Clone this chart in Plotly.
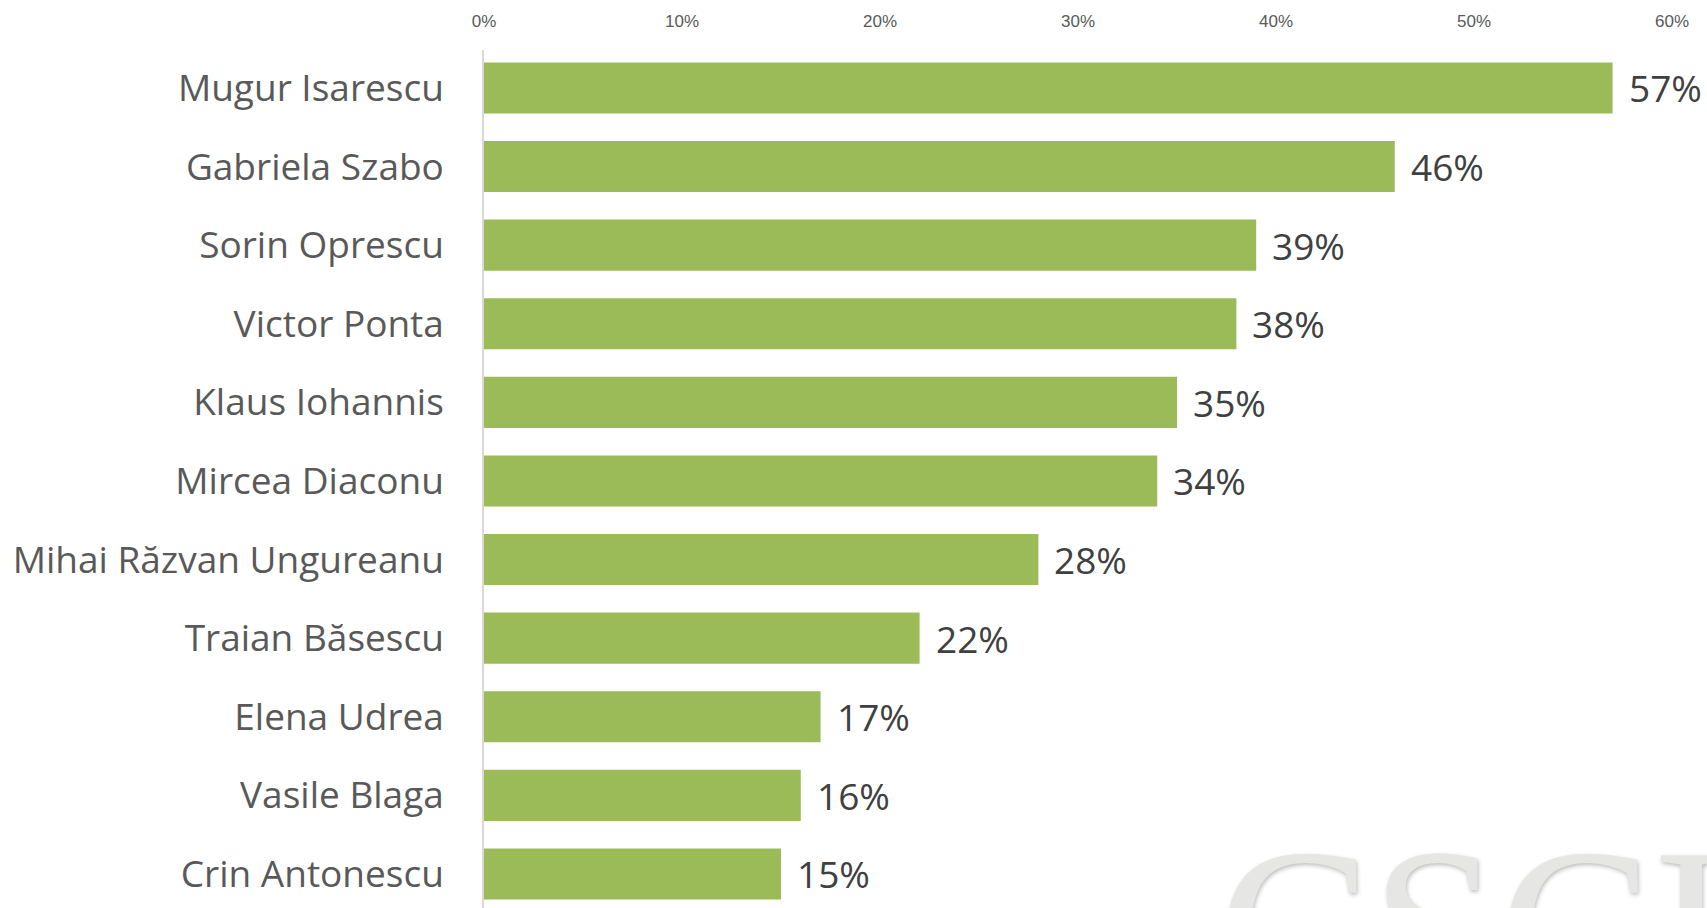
import plotly.graph_objects as go

names = ["Mugur Isarescu", "Gabriela Szabo", "Sorin Oprescu", "Victor Ponta",
         "Klaus Iohannis", "Mircea Diaconu", "Mihai Răzvan Ungureanu",
         "Traian Băsescu", "Elena Udrea", "Vasile Blaga", "Crin Antonescu"]
values = [0.57, 0.46, 0.39, 0.38, 0.35, 0.34, 0.28, 0.22, 0.17, 0.16, 0.15]
tick_vals = [0, 0.1, 0.2, 0.3, 0.4, 0.5, 0.6]
tick_text = ["0%", "10%", "20%", "30%", "40%", "50%", "60%"]
watermark = "CSCI"

fig = go.Figure()
fig.add_trace(go.Bar(
    x=values, y=names, orientation="h",
    marker=dict(color="#9bbb59", line=dict(width=0)),
    width=0.65, hoverinfo="skip",
))

annotations = []
for n, v in zip(names, values):
    annotations.append(dict(
        x=v, y=n, xref="x", yref="y", text=f"{round(v*100)}%",
        showarrow=False, xanchor="left", yanchor="middle", xshift=14,
        font=dict(family="Open Sans", size=37, color="#404040"),
    ))

pl, pr, pt, pb = 484, 1672, 50, 908
annotations.append(dict(
    x=(1216 - pl) / (pr - pl), y=(pb - 800) / (pb - pt),
    xref="paper", yref="paper", text=watermark,
    showarrow=False, xanchor="left", yanchor="top",
    font=dict(family="Liberation Serif", size=230, color="#e6e6e4",
              shadow="1px 2px 4px #bdbdbd"),
))

fig.update_layout(
    width=1707, height=908,
    margin=dict(l=pl, r=1707 - pr, t=pt, b=908 - pb),
    paper_bgcolor="white", plot_bgcolor="white",
    showlegend=False,
    annotations=annotations,
    xaxis=dict(
        side="top", range=[0, 0.6], tickvals=tick_vals, ticktext=tick_text,
        showgrid=False, zeroline=False, showline=False, ticks="",
        tickfont=dict(family="Liberation Sans Narrow, Arial Narrow, sans-serif",
                      size=17, color="#595959"),
        ticklabelstandoff=19,
    ),
    yaxis=dict(
        categoryorder="array", categoryarray=names,
        range=[10.433, -0.483],
        showgrid=False, zeroline=False, showline=True, linecolor="#d9d9d9",
        linewidth=1.5, ticks="",
        tickfont=dict(family="Open Sans", size=37, color="#595959"),
        ticklabelstandoff=31,
    ),
)

fig.write_html("out.html", config={"displayModeBar": False},
               post_script="document.body.style.margin='0';")
